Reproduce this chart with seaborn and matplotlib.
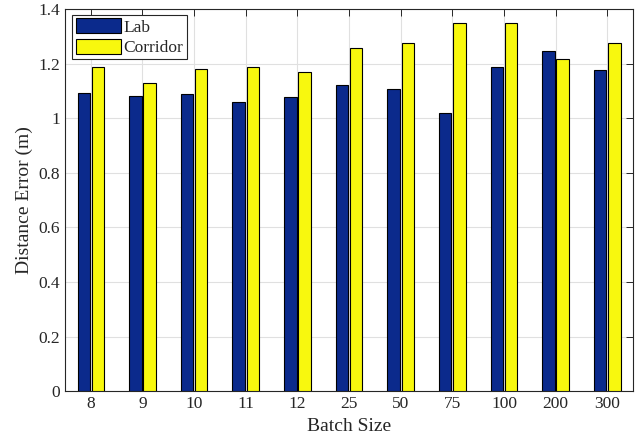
import matplotlib
matplotlib.use("Agg")
import matplotlib.pyplot as plt
import seaborn as sns
import pandas as pd

batch_sizes = ["8", "9", "10", "11", "12", "25", "50", "75", "100", "200", "300"]
lab = [1.093, 1.080, 1.087, 1.058, 1.078, 1.121, 1.105, 1.019, 1.186, 1.245, 1.175]
corridor = [1.187, 1.127, 1.181, 1.188, 1.170, 1.256, 1.276, 1.347, 1.350, 1.217, 1.274]
series = ["Lab", "Corridor"]
colors = ["#0B2A8C", "#F8F80E"]

df = pd.DataFrame({
    "Batch Size": batch_sizes * 2,
    "Error": lab + corridor,
    "Env": [series[0]] * len(lab) + [series[1]] * len(corridor),
})

sns.set_theme(style="white")
plt.rcParams["font.family"] = ["Liberation Serif", "DejaVu Serif"]

fig = plt.figure(figsize=(6.44, 4.45), dpi=100)
ax = fig.add_axes([0.101, 0.121, 0.882, 0.859])

sns.barplot(data=df, x="Batch Size", y="Error", hue="Env", order=batch_sizes,
            hue_order=series, palette=colors, saturation=1, width=0.55, gap=0.12,
            edgecolor="black", linewidth=0.8, ax=ax, zorder=3)

ax.set_ylim(0, 1.4)
ax.set_xlim(-0.5, len(batch_sizes) - 0.5)
ax.set_yticks([0, 0.2, 0.4, 0.6, 0.8, 1.0, 1.2, 1.4])
ax.set_yticklabels(["0", "0.2", "0.4", "0.6", "0.8", "1", "1.2", "1.4"])
ax.set_xlabel("Batch Size", fontsize=14, color="#262626")
ax.set_ylabel("Distance Error (m)", fontsize=14, color="#262626")
ax.tick_params(axis="both", labelsize=12.5, colors="#262626", direction="in",
               top=True, right=True, length=5, width=0.7)
ax.grid(True, color="#E0E0E0", linewidth=0.8, zorder=0)
ax.set_axisbelow(True)
for s in ax.spines.values():
    s.set_visible(True)
    s.set_color("#262626")
    s.set_linewidth(0.8)

leg = ax.legend(loc="upper left", fontsize=12.5, frameon=True, fancybox=False,
                edgecolor="#262626", framealpha=1, handlelength=2.6, handleheight=0.95,
                borderpad=0.2, labelspacing=0.15, handletextpad=0.15, borderaxespad=0,
                bbox_to_anchor=(0.013, 0.984))
leg.get_frame().set_linewidth(0.8)

fig.savefig("out.png", dpi=100)
